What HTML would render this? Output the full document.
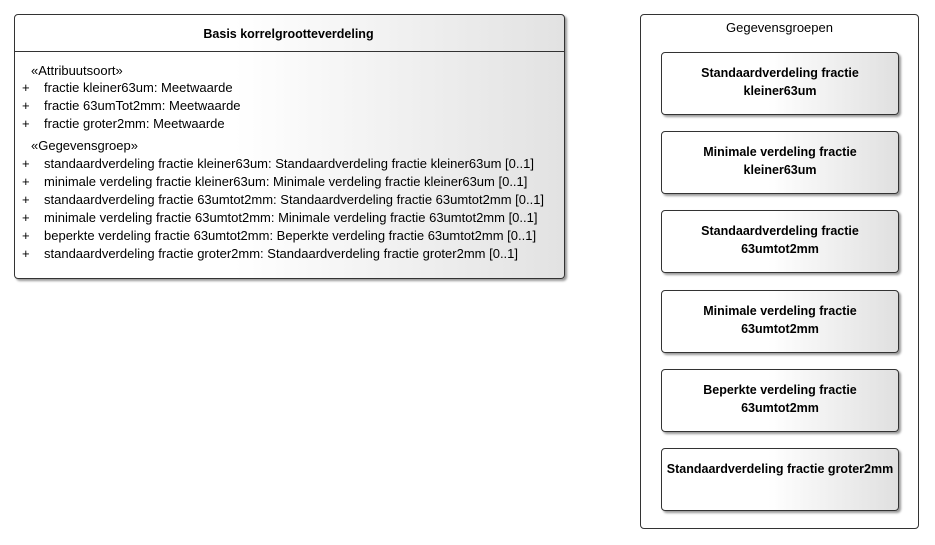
<!DOCTYPE html>
<html><head><meta charset="utf-8"><style>
body{margin:0;width:935px;height:545px;background:#fff;font-family:"Liberation Sans",sans-serif;font-size:13px;color:#000;position:relative;overflow:hidden}
.box{position:absolute;border:1px solid #333;border-radius:4px;box-shadow:2px 2px 2px #999}
.g{background:linear-gradient(to right,#fff 0%,#fff 40%,#e2e2e2 100%)}
.t{position:absolute;white-space:nowrap;line-height:14px}
.in{position:absolute;left:20px;width:238px;height:63px;border:1px solid #333;border-radius:4px;box-shadow:2px 2px 2px #999;background:linear-gradient(to right,#fff 0%,#fff 45%,#e0e0e0 100%);font-weight:bold;text-align:center;display:flex;align-items:flex-start;justify-content:center;box-sizing:border-box;padding-top:11px;line-height:18px;font-size:12.5px}
</style></head><body>
<div class="box g" style="left:14px;top:14px;width:549px;height:263px"></div>
<div style="position:absolute;left:15px;top:51px;width:549px;border-top:1px solid #333"></div>
<div class="t" style="left:14px;width:549px;top:27px;text-align:center;font-weight:bold;font-size:12.5px">Basis korrelgrootteverdeling</div>
<div class="t" style="left:31px;top:64px">«Attribuutsoort»</div>
<div class="t" style="left:22px;top:81px">+</div><div class="t" style="left:44px;top:81px">fractie kleiner63um: Meetwaarde</div>
<div class="t" style="left:22px;top:99px">+</div><div class="t" style="left:44px;top:99px">fractie 63umTot2mm: Meetwaarde</div>
<div class="t" style="left:22px;top:117px">+</div><div class="t" style="left:44px;top:117px">fractie groter2mm: Meetwaarde</div>
<div class="t" style="left:31px;top:139px">«Gegevensgroep»</div>
<div class="t" style="left:22px;top:157px">+</div><div class="t" style="left:44px;top:157px">standaardverdeling fractie kleiner63um: Standaardverdeling fractie kleiner63um [0..1]</div>
<div class="t" style="left:22px;top:175px">+</div><div class="t" style="left:44px;top:175px">minimale verdeling fractie kleiner63um: Minimale verdeling fractie kleiner63um [0..1]</div>
<div class="t" style="left:22px;top:193px">+</div><div class="t" style="left:44px;top:193px">standaardverdeling fractie 63umtot2mm: Standaardverdeling fractie 63umtot2mm [0..1]</div>
<div class="t" style="left:22px;top:211px">+</div><div class="t" style="left:44px;top:211px">minimale verdeling fractie 63umtot2mm: Minimale verdeling fractie 63umtot2mm [0..1]</div>
<div class="t" style="left:22px;top:229px">+</div><div class="t" style="left:44px;top:229px">beperkte verdeling fractie 63umtot2mm: Beperkte verdeling fractie 63umtot2mm [0..1]</div>
<div class="t" style="left:22px;top:247px">+</div><div class="t" style="left:44px;top:247px">standaardverdeling fractie groter2mm: Standaardverdeling fractie groter2mm [0..1]</div>

<div style="position:absolute;left:640px;top:14px;width:277px;height:513px;border:1px solid #333;border-radius:4px;background:#fff">
<div class="t" style="left:0;width:277px;top:6px;text-align:center">Gegevensgroepen</div>
<div class="in" style="top:37px">Standaardverdeling fractie<br>kleiner63um</div>
<div class="in" style="top:116px">Minimale verdeling fractie<br>kleiner63um</div>
<div class="in" style="top:195px">Standaardverdeling fractie<br>63umtot2mm</div>
<div class="in" style="top:275px">Minimale verdeling fractie<br>63umtot2mm</div>
<div class="in" style="top:354px">Beperkte verdeling fractie<br>63umtot2mm</div>
<div class="in" style="top:433px">Standaardverdeling fractie groter2mm</div>
</div>
</body></html>
